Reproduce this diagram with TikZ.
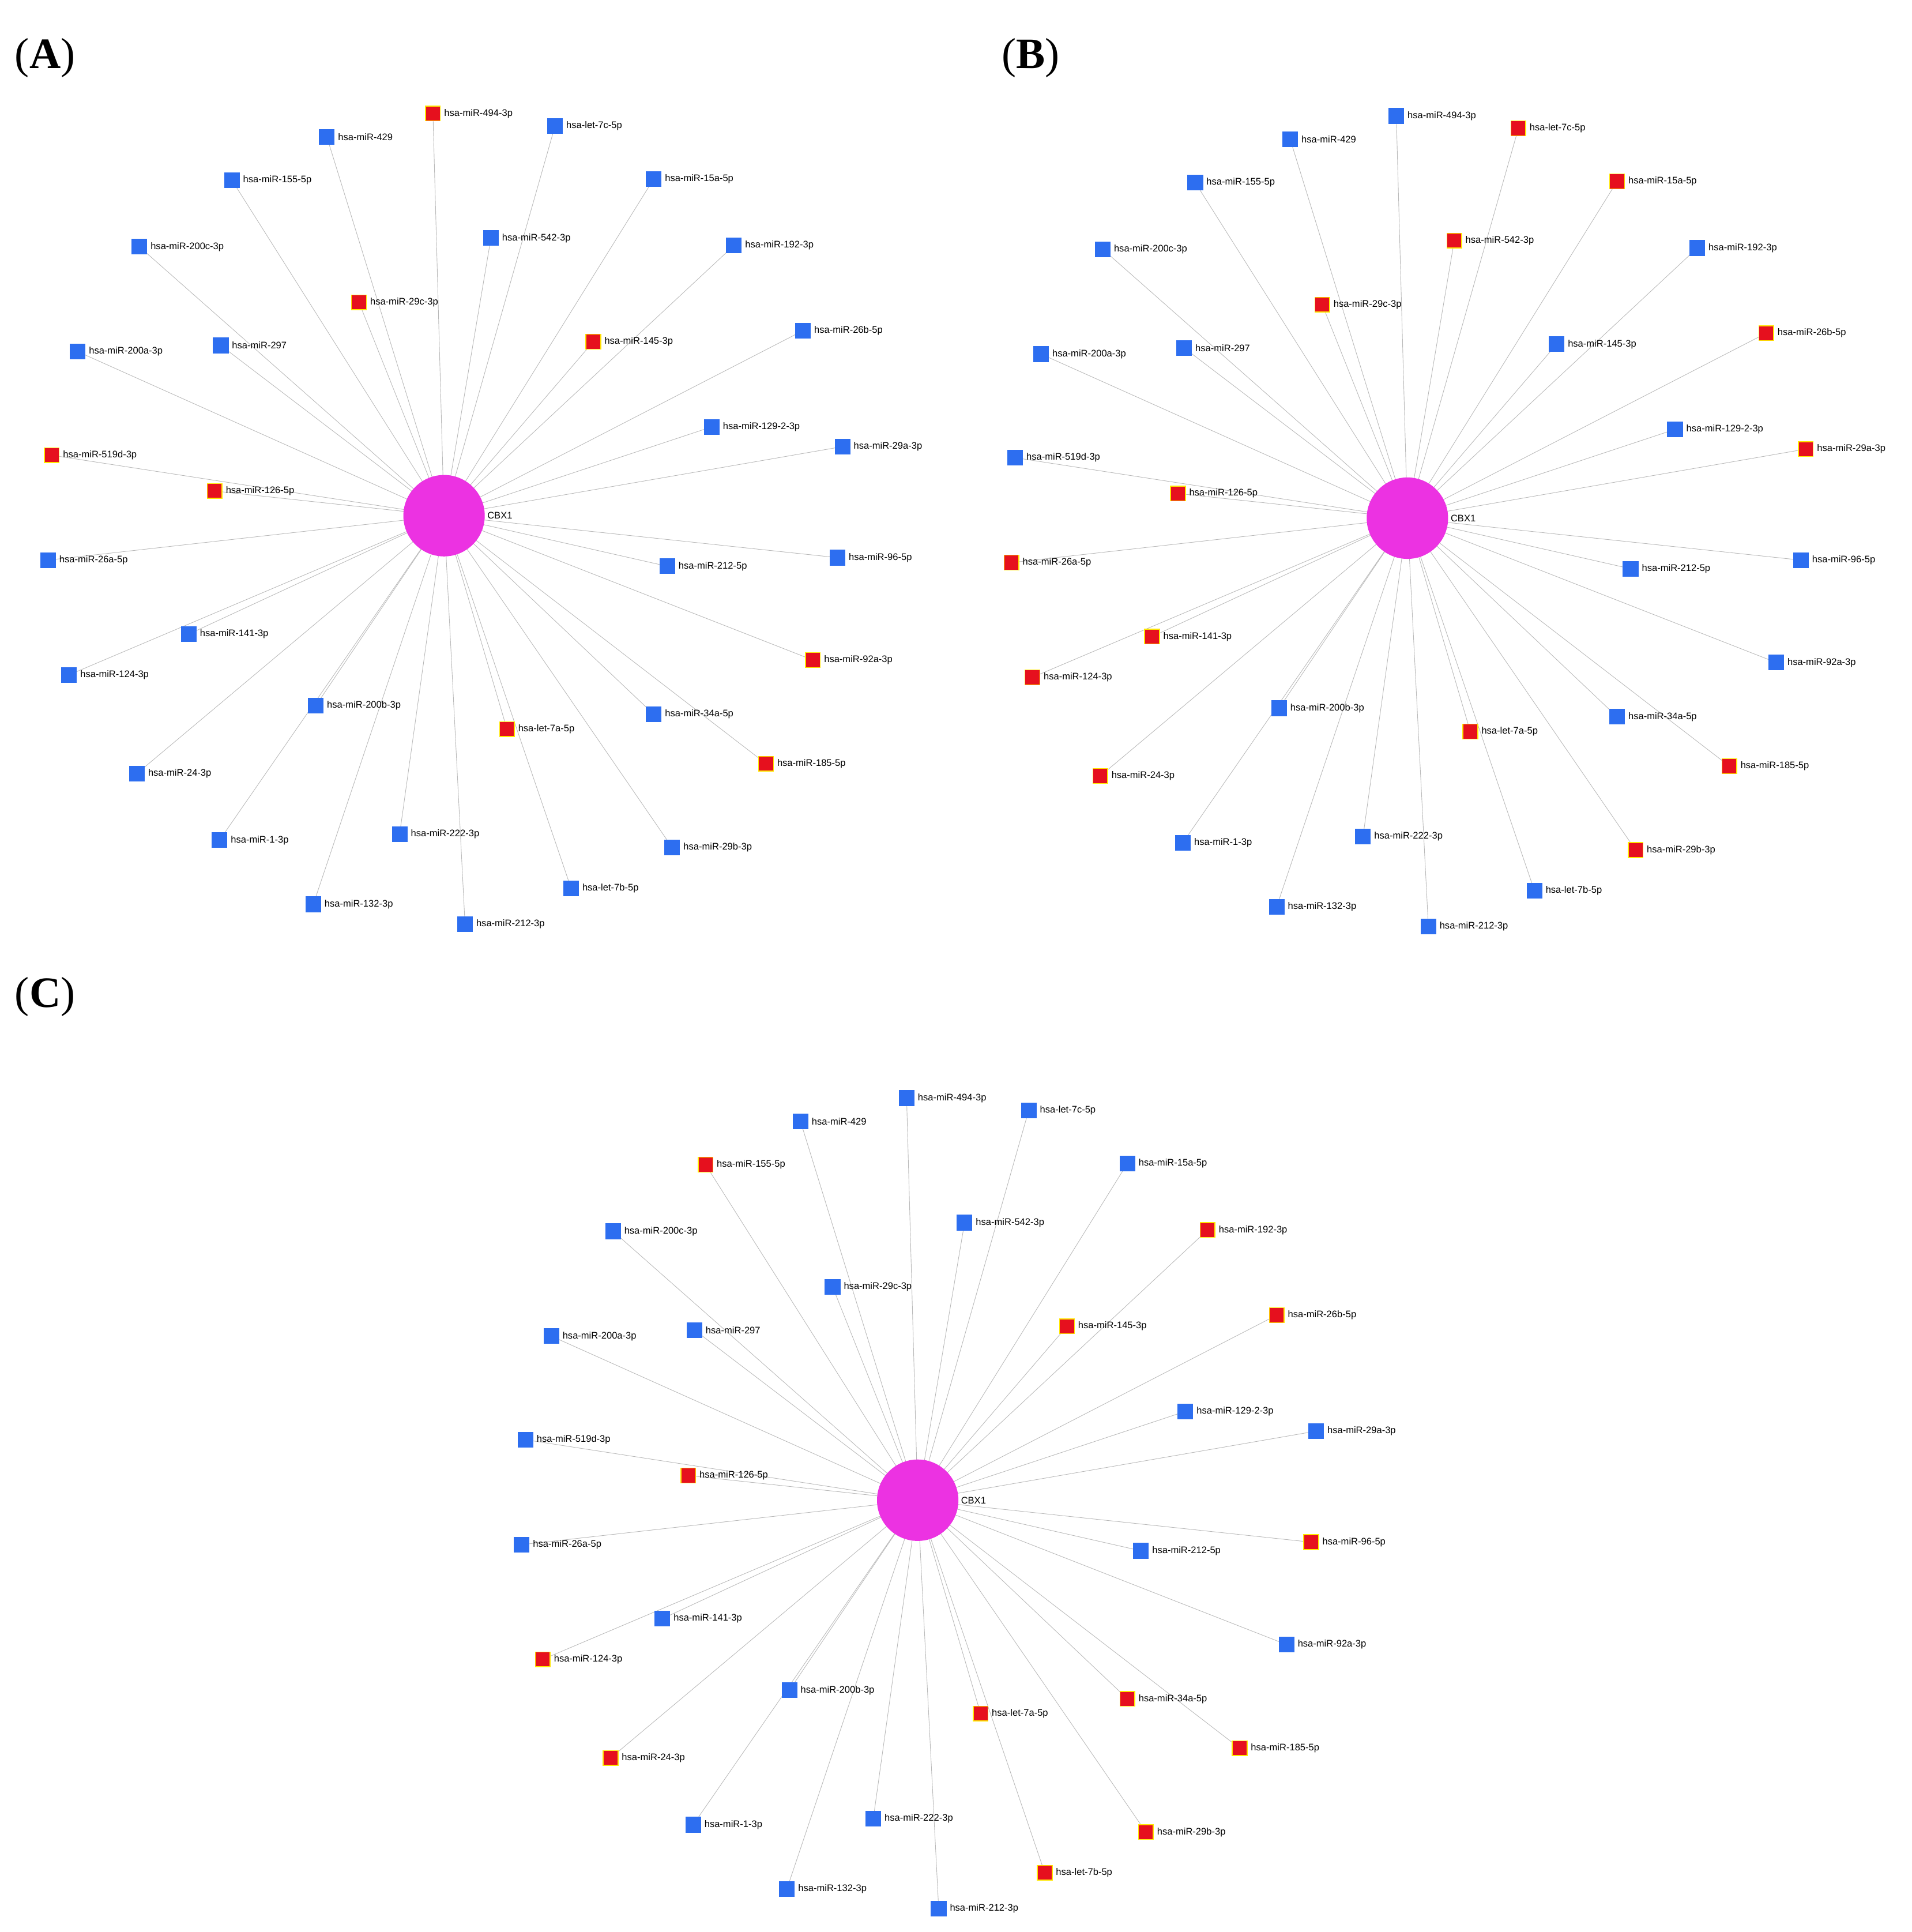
\documentclass[tikz,border=0pt]{standalone}
\usepackage{fontspec}
\usetikzlibrary{backgrounds}
\setmainfont{Liberation Serif}
\newfontfamily\labfont{Liberation Sans}
\definecolor{r}{RGB}{230,16,30}
\definecolor{b}{RGB}{45,110,240}
\colorlet{brr}{yellow!90!orange}
\colorlet{brb}{b}
\definecolor{hub}{RGB}{236,50,226}
\definecolor{edge}{RGB}{185,185,185}
\begin{document}
\begin{tikzpicture}[x=0.5mm,y=-0.5mm,
  sq/.style={minimum size=6mm,inner sep=0pt,line width=1pt},
  lab/.style={font=\labfont\fontsize{11pt}{12pt}\selectfont,inner sep=0pt},
  hubn/.style={circle,fill=hub,minimum size=33mm,inner sep=0pt},
  ed/.style={draw=edge,line width=0.6pt},
  panel/.style={font=\fontsize{50pt}{54pt}\selectfont,anchor=west,inner sep=0pt}]
\useasboundingbox (0,0) rectangle (1550,1566);
\def\nodelist{351/92/494-3p/r/b/b, 450/102/let-7c-5p/b/r/b, 265/111/429/b/b/b,
 530/145/15a-5p/b/r/b, 188/146/155-5p/b/b/r, 398/193/542-3p/b/r/b,
 595/199/192-3p/b/b/r, 113/200/200c-3p/b/b/b, 291/245/29c-3p/r/r/b,
 481/277/145-3p/r/b/r, 651/268/26b-5p/b/r/r, 179/280/297/b/b/b,
 63/285/200a-3p/b/b/b, 577/346/129-2-3p/b/b/b, 683/362/29a-3p/b/r/b,
 42/369/519d-3p/r/b/b, 174/398/126-5p/r/r/r, 39/454/26a-5p/b/r/b,
 541/459/212-5p/b/b/b, 679/452/96-5p/b/b/r, 153/514/141-3p/b/r/b,
 659/535/92a-3p/r/b/b, 56/547/124-3p/b/r/r, 256/572/200b-3p/b/b/b,
 530/579/34a-5p/b/b/r, 411/591/let-7a-5p/r/r/r, 621/619/185-5p/r/r/r,
 111/627/24-3p/b/r/r, 178/681/1-3p/b/b/b, 324/676/222-3p/b/b/b,
 545/687/29b-3p/b/r/r, 463/720/let-7b-5p/b/b/r, 254/733/132-3p/b/b/b,
 377/749/212-3p/b/b/b}
\newcommand{\mynet}[4]{%
 \begin{scope}[shift={(#2,#3)}]
  \coordinate (#1c) at (360,418);
  \foreach \x/\y/\l/\a/\b/\c [count=\i] in \nodelist {
    \edef\col{#4}%
    \node[sq,fill=\col,draw=br\col] (#1-\i) at (\x,\y) {};
    \node[lab,anchor=west] (#1-l\i) at (\x+9,\y) {hsa-\ifnum\pdfstrcmp{\l}{let-7c-5p}=0 \l\else\ifnum\pdfstrcmp{\l}{let-7a-5p}=0 \l\else\ifnum\pdfstrcmp{\l}{let-7b-5p}=0 \l\else miR-\l\fi\fi\fi};
    \begin{scope}[on background layer]
      \draw[ed] (#1c) -- (#1-\i.center);
    \end{scope}
  }
  \node[hubn] (#1h) at (360,418) {};
  \node[lab,anchor=west] (#1hl) at (395,418) {CBX1};
 \end{scope}}
\mynet{A}{0}{0}{\a}
\mynet{B}{781}{2}{\b}
\mynet{C}{384}{798}{\c}
\node[panel] (pA) at (12,47) {(\textbf{A})};
\node[panel] (pB) at (812,47) {(\textbf{B})};
\node[panel] (pC) at (12,808) {(\textbf{C})};
\end{tikzpicture}
\end{document}
